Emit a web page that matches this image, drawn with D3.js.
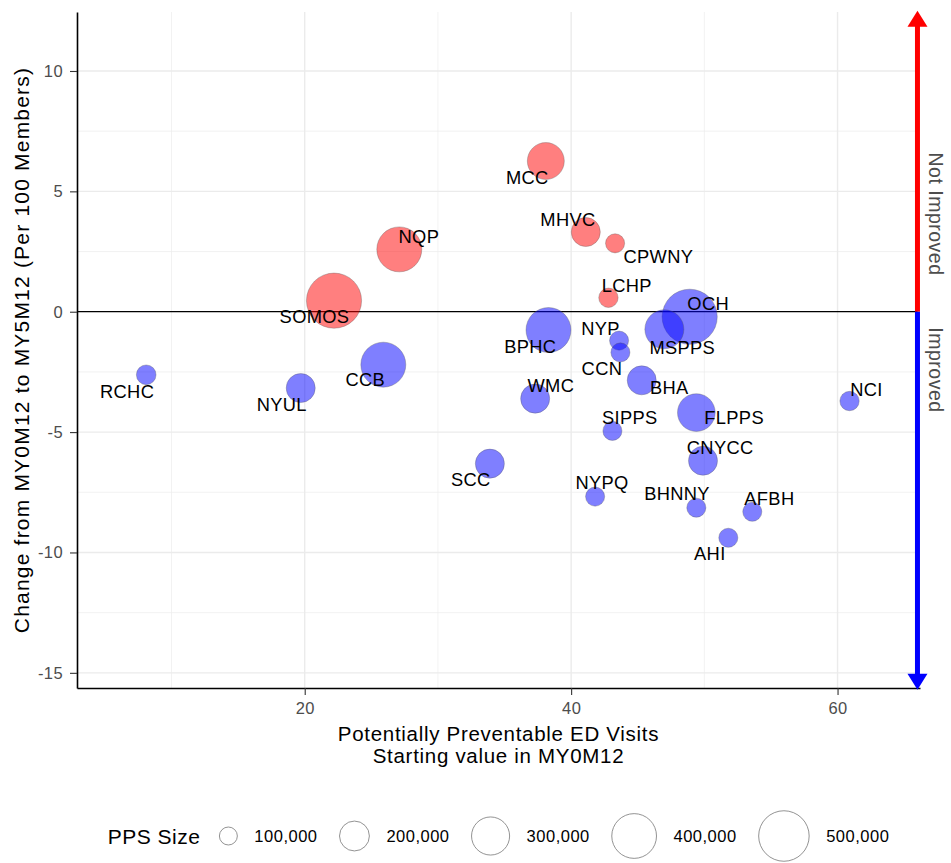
<!DOCTYPE html>
<html><head><meta charset="utf-8">
<script src="https://cdn.jsdelivr.net/npm/d3@7"></script>
<style>
body{margin:0;background:#fff}
svg{display:block}
text{font-family:"Liberation Sans",Arial,Helvetica,sans-serif}
</style>
</head><body><svg id="chart" width="951" height="863"></svg>
<script>
// ---------------- data ----------------
const names = ["MCC","MHVC","CPWNY","NQP","LCHP","SOMOS","OCH","NYP","MSPPS","BPHC","CCN","RCHC","NYUL","CCB","WMC","BHA","NCI","SIPPS","FLPPS","CNYCC","SCC","NYPQ","BHNNY","AFBH","AHI"];
const startValue = [38.1,41.1,43.3,27.1,42.8,22.2,48.9,43.6,47.0,38.3,43.7,8.1,19.7,25.9,37.3,45.3,60.9,43.1,49.4,49.9,33.9,41.8,49.4,53.6,51.8];
const change = [6.26,3.31,2.84,2.59,0.58,0.46,-0.21,-1.20,-0.73,-0.76,-1.69,-2.62,-3.17,-2.20,-3.61,-2.85,-3.71,-4.95,-4.19,-6.19,-6.31,-7.68,-8.14,-8.31,-9.39];
const ppsSize = [285000,191000,107000,404000,109000,590000,590000,107000,313000,404000,107000,111000,191000,404000,191000,191000,109000,107000,295000,191000,191000,107000,107000,107000,107000];
const sizeBreaks = [100000,200000,300000,400000,500000];
const xTicks = [20,40,60];
const xMinor = [10,30,50];
const yTicks = [-15,-10,-5,0,5,10];
const yMinor = [-12.5,-7.5,-2.5,2.5,7.5];

// ---------------- layout ----------------
const W = 951, H = 863;
const margin = {top:12, right:31, bottom:175, left:77};
const xDomain = [2.905, 66.19];
const yDomain = [12.45, -15.63];
const arrowX = 66.0, arrowTop = 12.5, arrowBottom = -15.7;
// label nudges (px) as placed by the original label repel
const labelNudge = {
  MCC:[-18.5,16.3], MHVC:[-17.8,-12.7], CPWNY:[43.3,12.7], LCHP:[18.4,-12.7], OCH:[18.5,-13.4],
  NYP:[-18.5,-12.4], BPHC:[-18.2,16.7], MSPPS:[17.9,18], CCN:[-18.5,15.7], BHA:[27.5,7.5],
  NCI:[17,-12], FLPPS:[37.8,4.8], SIPPS:[17.4,-13.2], CNYCC:[17.2,-12.9], NYPQ:[7,-13.7],
  BHNNY:[-19.3,-13.7], AFBH:[17.1,-13.7], AHI:[-18.5,16], SOMOS:[-19.5,15.6], RCHC:[-19.1,16.5],
  NYUL:[-19,16], CCB:[-18,15.3], SCC:[-19.1,16.1], WMC:[15.7,-12.7], NQP:[19.6,-12.6]
};

const svg = d3.select("#chart");
const x = d3.scaleLinear().domain(xDomain).range([margin.left, W - margin.right]);
const y = d3.scaleLinear().domain(yDomain).range([margin.top, H - margin.bottom]);
const sizeNorm = d3.scaleLinear().domain([50000, 500000]).range([0, 1]);
const sizeR = d3.scaleSqrt().domain([0, 1]).range([0.85, 25.25]);
const radius = v => sizeR(sizeNorm(v));

const [x0, x1] = x.range();
const [y0, y1] = y.range();

// gridlines
const grid = svg.append("g");
grid.selectAll(".vmin").data(xMinor).join("line")
  .attr("x1", d => x(d)).attr("x2", d => x(d)).attr("y1", y0).attr("y2", y1)
  .attr("stroke", "#ececec").attr("stroke-width", 0.7);
grid.selectAll(".hmin").data(yMinor).join("line")
  .attr("y1", d => y(d)).attr("y2", d => y(d)).attr("x1", x0).attr("x2", x1)
  .attr("stroke", "#ececec").attr("stroke-width", 0.7);
grid.selectAll(".vmaj").data(xTicks).join("line")
  .attr("x1", d => x(d)).attr("x2", d => x(d)).attr("y1", y0).attr("y2", y1)
  .attr("stroke", "#ebebeb").attr("stroke-width", 1.4);
grid.selectAll(".hmaj").data(yTicks.filter(d => d !== 0)).join("line")
  .attr("y1", d => y(d)).attr("y2", d => y(d)).attr("x1", x0).attr("x2", x1)
  .attr("stroke", "#ebebeb").attr("stroke-width", 1.4);

// zero line
svg.append("line").attr("x1", x0).attr("x2", x(arrowX)).attr("y1", y(0)).attr("y2", y(0))
  .attr("stroke", "#000").attr("stroke-width", 1.3);

// points
const data = names.map((n, i) => ({name:n, sx:startValue[i], ch:change[i], size:ppsSize[i]}));
svg.append("g").selectAll("circle").data(data).join("circle")
  .attr("cx", d => x(d.sx)).attr("cy", d => y(d.ch)).attr("r", d => radius(d.size))
  .attr("fill", d => d.ch > 0 ? "#ff0000" : "#0000ff").attr("fill-opacity", 0.5)
  .attr("stroke", "#555").attr("stroke-opacity", 0.55).attr("stroke-width", 0.6);

// labels
svg.append("g").selectAll("text").data(data).join("text")
  .attr("x", d => x(d.sx) + labelNudge[d.name][0])
  .attr("y", d => y(d.ch) + labelNudge[d.name][1])
  .attr("text-anchor", "middle").attr("dominant-baseline", "central")
  .attr("font-size", 18.3).attr("letter-spacing", 0.35).attr("fill", "#000")
  .text(d => d.name);

// axes
const tickFmt = d => String(d);
const gx = svg.append("g").attr("transform", `translate(0,${y1})`)
  .call(d3.axisBottom(x).tickValues(xTicks).tickFormat(tickFmt).tickSize(7).tickPadding(7).tickSizeOuter(0));
const gy = svg.append("g").attr("transform", `translate(${x0},0)`)
  .call(d3.axisLeft(y).tickValues(yTicks).tickFormat(tickFmt).tickSize(7).tickPadding(7).tickSizeOuter(0));
[gx, gy].forEach(g => {
  g.select(".domain").attr("stroke", "#000").attr("stroke-width", 1.6);
  g.selectAll(".tick line").attr("stroke", "#333").attr("stroke-width", 1.1);
  g.selectAll(".tick text").attr("fill", "#4d4d4d").attr("font-size", 16.5)
    .attr("letter-spacing", 0.4).style("font-family", '"Liberation Sans",Arial,sans-serif');
});

// axis titles
const xt = svg.append("text").attr("text-anchor", "middle").attr("font-size", 20.5)
  .attr("letter-spacing", 0.7).attr("fill", "#000");
xt.append("tspan").attr("x", (x0 + x1) / 2).attr("y", 741).text("Potentially Preventable ED Visits");
xt.append("tspan").attr("x", (x0 + x1) / 2).attr("y", 763).text("Starting value in MY0M12");

svg.append("text").attr("transform", `translate(29,${(y0 + y1) / 2}) rotate(-90)`)
  .attr("text-anchor", "middle").attr("font-size", 21).attr("letter-spacing", 1.2).attr("fill", "#000")
  .text("Change from MY0M12 to MY5M12 (Per 100 Members)");

// right-hand arrow
const ax = x(arrowX), head = 16, hw = 10;
svg.append("line").attr("x1", ax).attr("x2", ax).attr("y1", y(0)).attr("y2", y(arrowTop) + head - 1)
  .attr("stroke", "#ff0000").attr("stroke-width", 5);
svg.append("path").attr("d", `M${ax},${y(arrowTop)} L${ax + hw},${y(arrowTop) + head} L${ax - hw},${y(arrowTop) + head} Z`)
  .attr("fill", "#ff0000");
svg.append("line").attr("x1", ax).attr("x2", ax).attr("y1", y(0)).attr("y2", y(arrowBottom) - head + 1)
  .attr("stroke", "#0000ff").attr("stroke-width", 5);
svg.append("path").attr("d", `M${ax},${y(arrowBottom)} L${ax + hw},${y(arrowBottom) - head} L${ax - hw},${y(arrowBottom) - head} Z`)
  .attr("fill", "#0000ff");

svg.append("text").attr("transform", `translate(936,214) rotate(90)`)
  .attr("text-anchor", "middle").attr("dominant-baseline", "central")
  .attr("font-size", 19.5).attr("letter-spacing", 0.5).attr("fill", "#4d4d4d").text("Not Improved");
svg.append("text").attr("transform", `translate(936,370) rotate(90)`)
  .attr("text-anchor", "middle").attr("dominant-baseline", "central")
  .attr("font-size", 19.5).attr("letter-spacing", 0.5).attr("fill", "#4d4d4d").text("Improved");

// size legend
const legY = 836;
const leg = svg.append("g");
const lt = leg.append("text").attr("x", 0).attr("y", legY).attr("dominant-baseline", "central")
  .attr("font-size", 21).attr("letter-spacing", 0.5).attr("fill", "#000").text("PPS Size");
let cursor = lt.node().getComputedTextLength() + 19;
const fmt = d3.format(",");
sizeBreaks.forEach(b => {
  const r = radius(b);
  const cx = cursor + r;
  leg.append("circle").attr("cx", cx).attr("cy", legY).attr("r", r)
    .attr("fill", "none").attr("stroke", "#777").attr("stroke-width", 0.8);
  const t = leg.append("text").attr("x", cx + r + 17).attr("y", legY).attr("dominant-baseline", "central")
    .attr("font-size", 16.5).attr("letter-spacing", 0.5).attr("fill", "#000").text(fmt(b));
  cursor = cx + r + 17 + t.node().getComputedTextLength() + 22;
});
const legW = cursor - 22;
leg.attr("transform", `translate(${(x0 + x1) / 2 - legW / 2},0)`);
</script>
</body></html>
